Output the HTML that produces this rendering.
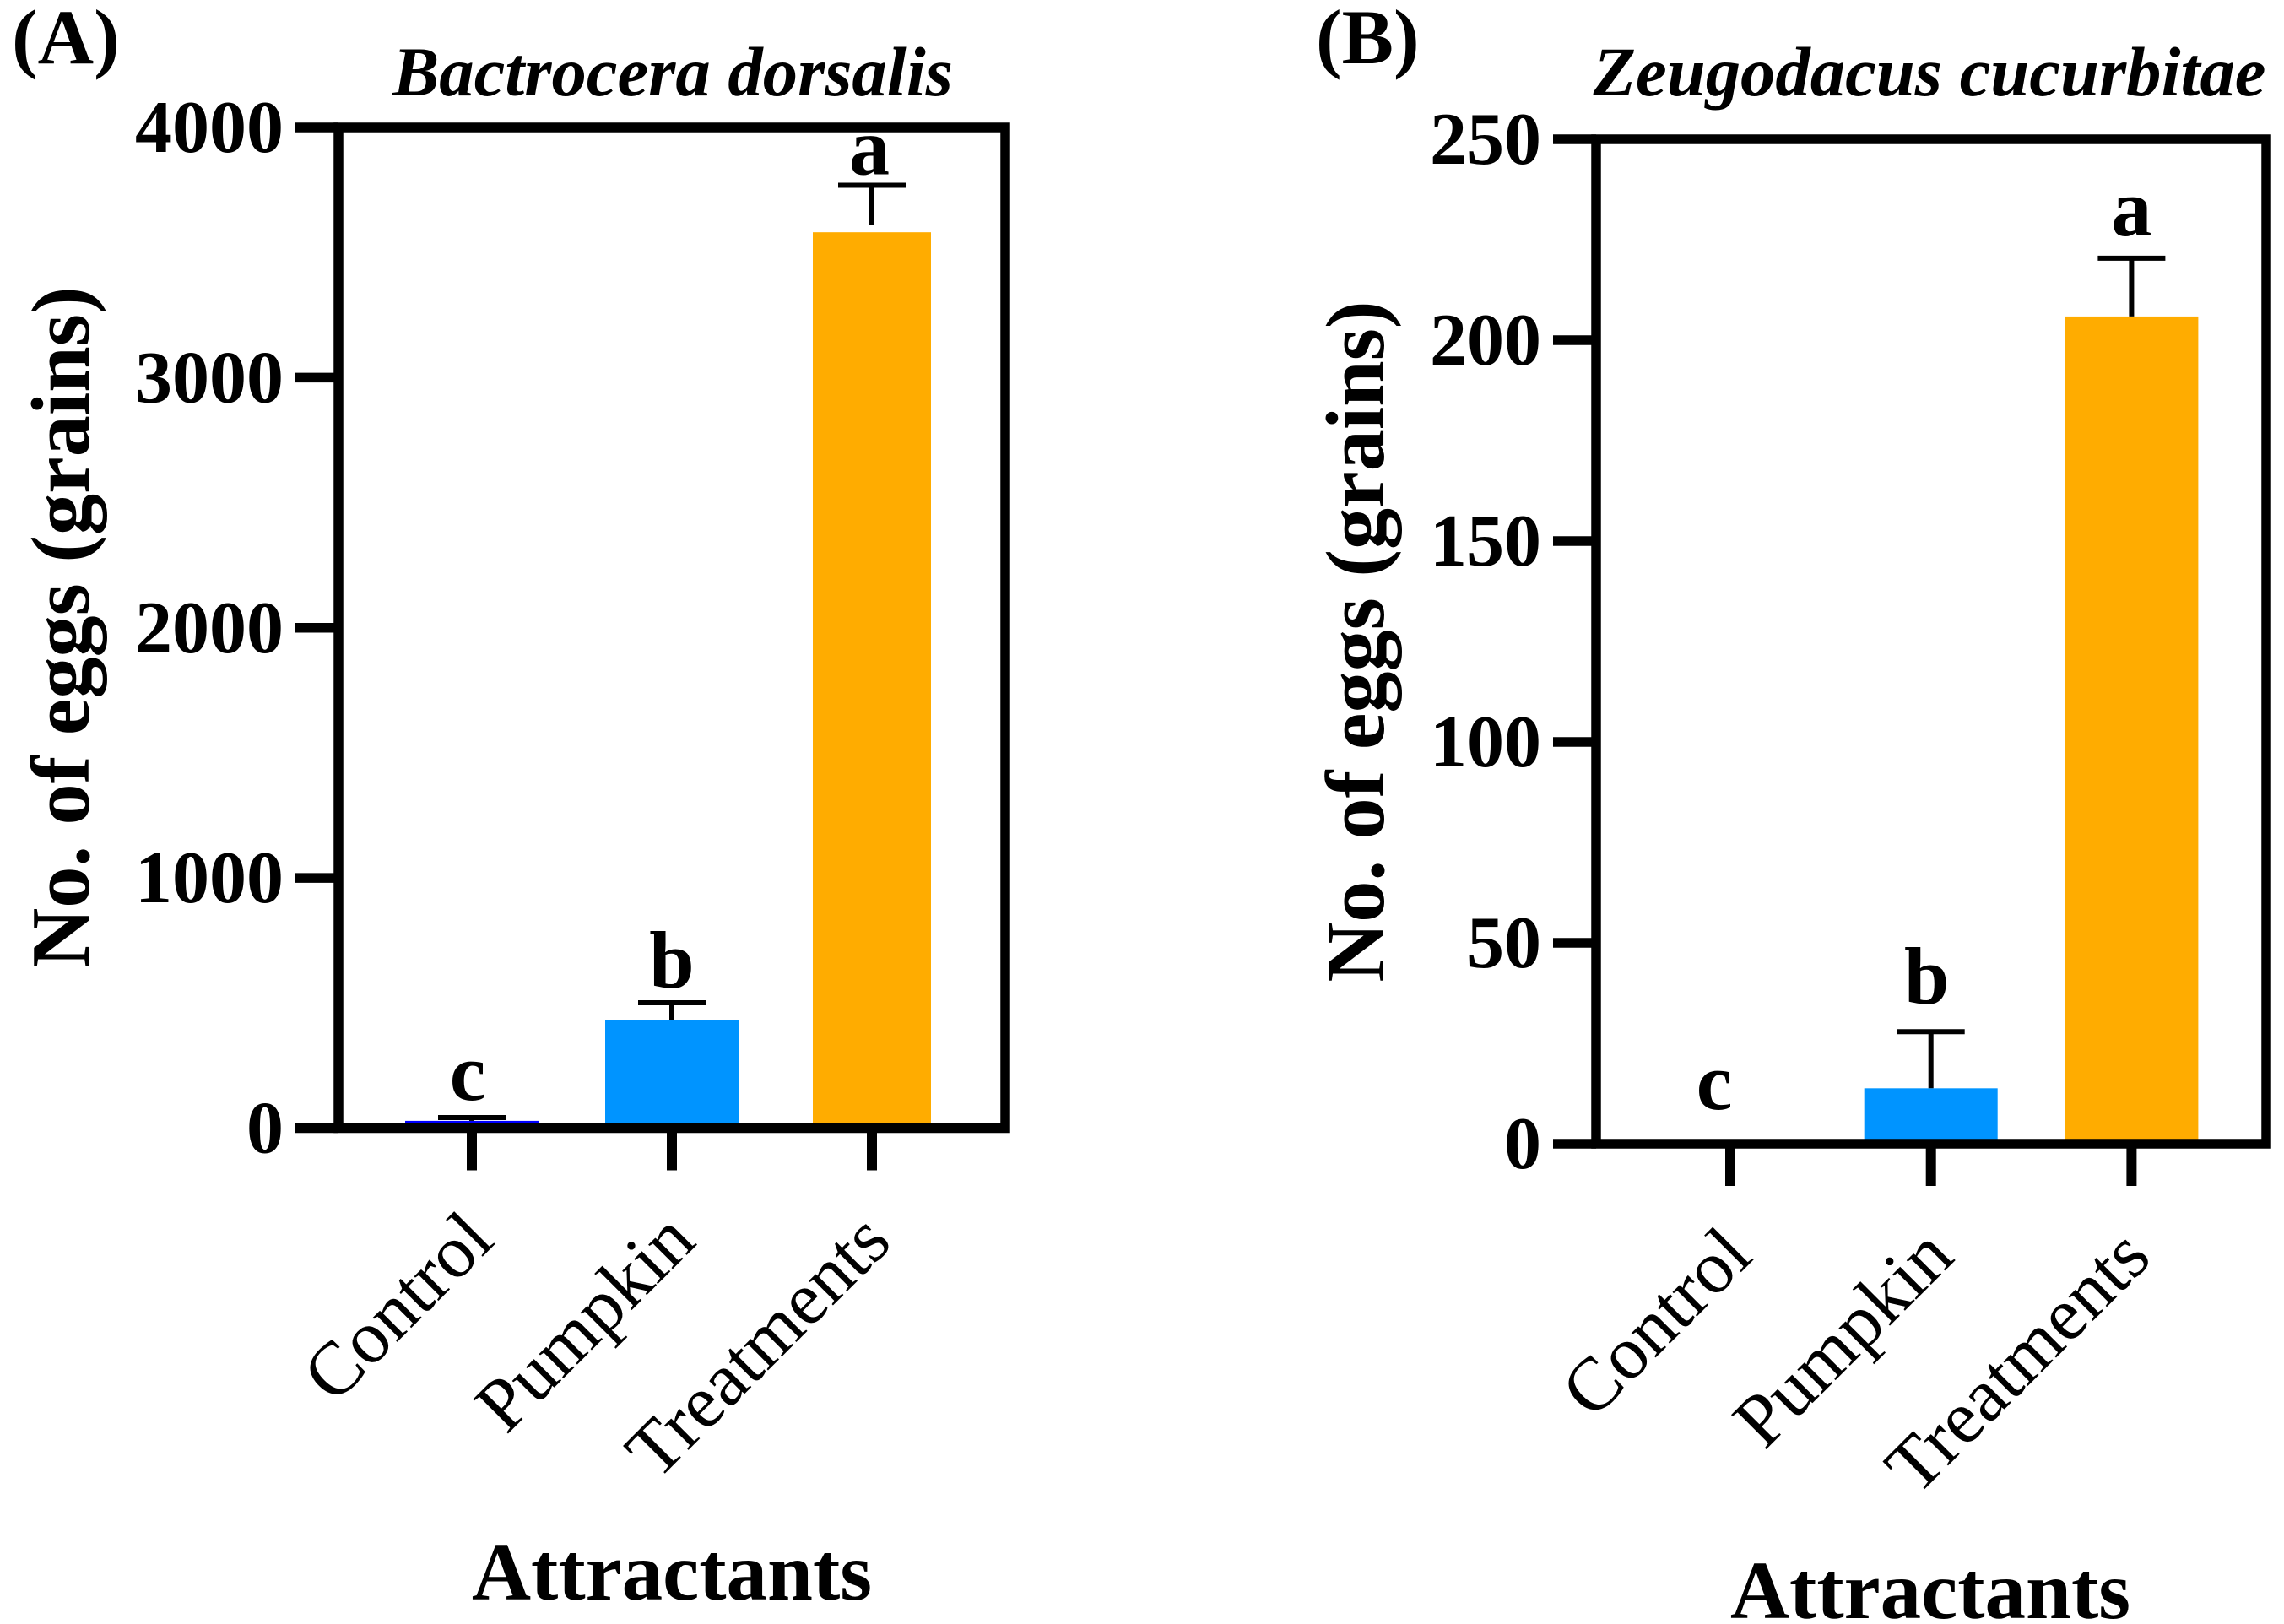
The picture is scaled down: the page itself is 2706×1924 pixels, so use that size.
<!DOCTYPE html>
<html lang="en">
<head>
<meta charset="utf-8">
<title>No. of eggs by attractant</title>
<style>
html,body{margin:0;padding:0;background:#fff;}
svg{display:block;}
text{font-family:"Liberation Serif","Times New Roman",serif;fill:#000;}
.tick{font-size:88px;font-weight:bold;text-anchor:end;}
.ytitle{font-size:98.2px;font-weight:bold;text-anchor:middle;}
.xtitle{font-size:97px;font-weight:bold;text-anchor:middle;}
.title{font-size:82.7px;font-weight:bold;font-style:italic;text-anchor:middle;}
.panel{font-size:92px;font-weight:bold;}
.letter{font-size:96px;font-weight:bold;text-anchor:middle;}
.cat{font-size:89px;text-anchor:end;}
</style>
</head>
<body>
<svg id="figure" xmlns="http://www.w3.org/2000/svg" width="2706" height="1924" viewBox="0 0 2706 1924">
  <rect x="0" y="0" width="2706" height="1924" fill="#fff"/>

  <text class="panel" x="14" y="75">(A)</text>
  <text class="title" x="797" y="113">Bactrocera dorsalis</text>
  <text class="ytitle" transform="translate(105 743) rotate(-90)">No. of eggs (grains)</text>
  <text class="xtitle" x="796" y="1895">Attractants</text>
  <g id="plotA"></g>

  <text class="panel" x="1559" y="75">(B)</text>
  <text class="title" x="2286" y="113">Zeugodacus cucurbitae</text>
  <text class="ytitle" transform="translate(1639 760) rotate(-90)">No. of eggs (grains)</text>
  <text class="xtitle" x="2287" y="1917">Attractants</text>
  <g id="plotB"></g>
</svg>
<script>
const categories = ['Control', 'Pumpkin', 'Treatments'];
const barColors = ['#0000ff', '#0094ff', '#ffac00'];

const valuesA = [29, 433, 3581];
const errorTopsA = [42, 501, 3769];
const errorBasesA = [29, 433, 3610];
const lettersA = ['c', 'b', 'a'];
const yTicksA = [0, 1000, 2000, 3000, 4000];

const valuesB = [0, 13.8, 205.9];
const errorTopsB = [0, 27.9, 220.4];
const errorBasesB = [0, 13.8, 205.9];
const lettersB = ['c', 'b', 'a'];
const yTicksB = [0, 50, 100, 150, 200, 250];

const SVG_NS = 'http://www.w3.org/2000/svg';

function line(parent, x1, y1, x2, y2, width) {
  const el = document.createElementNS(SVG_NS, 'line');
  el.setAttribute('x1', x1);
  el.setAttribute('y1', y1);
  el.setAttribute('x2', x2);
  el.setAttribute('y2', y2);
  el.setAttribute('stroke', '#000');
  el.setAttribute('stroke-width', width);
  parent.appendChild(el);
  return el;
}

function label(parent, cls, str) {
  const el = document.createElementNS(SVG_NS, 'text');
  el.setAttribute('class', cls);
  el.textContent = str;
  parent.appendChild(el);
  return el;
}

function drawPanel(cfg) {
  const g = document.getElementById(cfg.id);
  const yMax = cfg.yTicks[cfg.yTicks.length - 1];
  const yScale = v => cfg.bottom - (v / yMax) * (cfg.bottom - cfg.top);
  const xScale = i => cfg.firstX + i * cfg.stepX;

  cfg.values.forEach((v, i) => {
    if (v <= 0) return;
    const w = cfg.barWidths[i];
    const bar = document.createElementNS(SVG_NS, 'rect');
    bar.setAttribute('x', xScale(i) - w / 2);
    bar.setAttribute('y', yScale(v));
    bar.setAttribute('width', w);
    bar.setAttribute('height', cfg.bottom - yScale(v));
    bar.setAttribute('fill', barColors[i]);
    
    
    g.appendChild(bar);
  });

  cfg.errorTops.forEach((top, i) => {
    if (top <= cfg.values[i]) return;
    const x = xScale(i);
    const stem = line(g, x, yScale(top), x, yScale(cfg.errorBases[i]), 6);
    
    
    const cap = line(g, x - 40, yScale(top), x + 40, yScale(top), 6);
    
    
  });

  const frame = document.createElementNS(SVG_NS, 'rect');
  frame.setAttribute('x', cfg.left);
  frame.setAttribute('y', cfg.top);
  frame.setAttribute('width', cfg.right - cfg.left);
  frame.setAttribute('height', cfg.bottom - cfg.top);
  frame.setAttribute('fill', 'none');
  frame.setAttribute('stroke', '#000');
  frame.setAttribute('stroke-width', 11.5);
  
  
  g.appendChild(frame);

  cfg.yTicks.forEach(t => {
    const y = yScale(t);
    const tick = line(g, cfg.left - 51, y, cfg.left, y, 11.5);
    
    
    const txt = label(g, 'tick', String(t));
    txt.setAttribute('x', cfg.left + cfg.tickLabelDx);
    txt.setAttribute('y', y + 29);
    
    
  });

  categories.forEach((c, i) => {
    const x = xScale(i);
    const tick = line(g, x, cfg.bottom, x, cfg.bottom + 50, 12);
    
    
    const ax = x + cfg.catDx[i];
    const ay = cfg.bottom + cfg.catDy[i];
    const txt = label(g, 'cat', c);
    txt.setAttribute('transform', 'translate(' + ax + ' ' + ay + ') rotate(-45)');
    
    
  });

  cfg.letters.forEach((s, i) => {
    const txt = label(g, 'letter', s);
    txt.setAttribute('x', xScale(i) + cfg.letterDx[i]);
    txt.setAttribute('y', yScale(cfg.errorTops[i]) - cfg.letterGap[i]);
    
    
  });
}

drawPanel({
  id: 'plotA', left: 401, right: 1191, top: 151, bottom: 1336.5,
  firstX: 559, stepX: 237, tickLabelDx: -65,
  barWidths: [158, 158, 140],
  values: valuesA, errorTops: errorTopsA, errorBases: errorBasesA,
  letters: lettersA, yTicks: yTicksA,
  letterDx: [-5, 0, -3], letterGap: [21, 18, 13],
  catDx: [29, 31, 26], catDy: [136, 137, 138]
});

drawPanel({
  id: 'plotB', left: 1891, right: 2685, top: 165, bottom: 1355,
  firstX: 2050, stepX: 237.7, tickLabelDx: -65,
  barWidths: [158, 158, 158],
  values: valuesB, errorTops: errorTopsB, errorBases: errorBasesB,
  letters: lettersB, yTicks: yTicksB,
  letterDx: [-19, -5, 0], letterGap: [41, 33, 27],
  catDx: [29, 30, 26], catDy: [136, 137, 138]
});
</script>
</body>
</html>
